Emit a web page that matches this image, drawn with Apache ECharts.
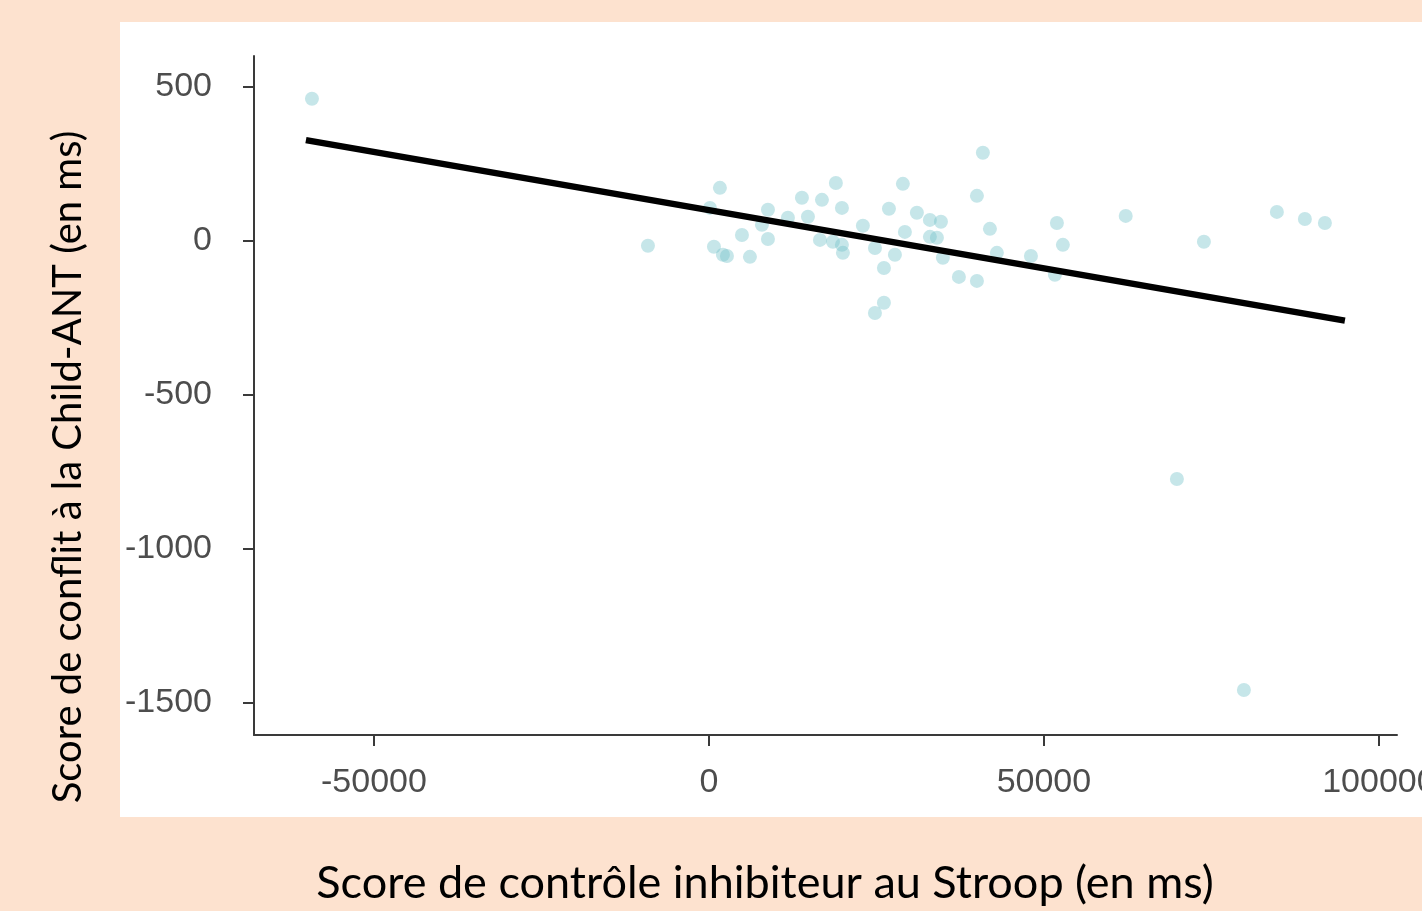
<!DOCTYPE html>
<html>
<head>
<meta charset="utf-8">
<script src="https://cdn.jsdelivr.net/npm/echarts@6/dist/echarts.min.js"></script>
<style>
html,body{margin:0;padding:0;background:#fde2cf;}
#chart{width:1422px;height:911px;}
</style>
</head>
<body>
<div id="chart"></div>
<script>
// Data
const xValues = [-59250, -9100, 1640, 150, 750, 2090, 2690, 4930, 6120, 8810, 8810, 7910, 11790, 13880, 14780, 16870, 18950, 19850, 16570, 18510, 19850, 20000, 22980, 24780, 26120, 26120, 24780, 26870, 27760, 28950, 29250, 31040, 32980, 34630, 32980, 34030, 34920, 37310, 40000, 40000, 40890, 41940, 42980, 48060, 51940, 52830, 51640, 62210, 73880, 69850, 79850, 84770, 88950, 91940];
const yValues = [461, -16, 172, 107, -19, -45, -49, 19, -52, 101, 6, 52, 75, 140, 78, 133, 188, 107, 3, -3, -13, -39, 49, -23, -88, -201, -234, 104, -45, 185, 29, 91, 68, 62, 13, 10, -55, -117, -130, 146, 286, 39, -39, -49, 58, -13, -110, 81, -3, -773, -1458, 94, 71, 58];
const fitX = [-60150, 94925];
const fitY = [327, -259];
const xTicks = [-50000, 0, 50000, 100000];
const yTicks = [-1500, -1000, -500, 0, 500];
const xTitle = 'Score de contrôle inhibiteur au Stroop (en ms)';
const yTitle = 'Score de conflit à la Child-ANT (en ms)';

const points = xValues.map((x, i) => [x, yValues[i]]);
const fitLine = fitX.map((x, i) => [x, fitY[i]]);

const chart = echarts.init(document.getElementById('chart'));
const axisCol = '#3a3a3a';
const labelStyle = {color: '#4d4d4d', fontFamily: 'Liberation Sans, Arial, sans-serif', fontSize: 34};
chart.setOption({
  backgroundColor: '#fde2cf',
  animation: false,
  graphic: [
    {type: 'rect', z: -10, shape: {x: 120, y: 22, width: 1310, height: 795}, style: {fill: '#ffffff'}},
    {type: 'text', z: 10, x: 765, y: 883, style: {text: xTitle, fill: '#000', font: '45px Lato, "Open Sans", sans-serif', align: 'center', verticalAlign: 'middle'}},
    {type: 'text', z: 10, x: 68, y: 467, rotation: Math.PI / 2, style: {text: yTitle, fill: '#000', font: '40px Lato, "Open Sans", sans-serif', align: 'center', verticalAlign: 'middle'}}
  ],
  grid: {left: 254, top: 56, right: 25, bottom: 176, containLabel: false, outerBoundsMode: 'none'},
  xAxis: {
    type: 'value', min: -67900, max: 102700,
    splitLine: {show: false},
    axisLine: {show: true, onZero: false, lineStyle: {color: axisCol, width: 2}},
    axisTick: {show: true, length: 11, customValues: xTicks, lineStyle: {color: axisCol, width: 2}},
    axisLabel: Object.assign({margin: 31, customValues: xTicks, formatter: v => String(v), hideOverlap: false}, labelStyle)
  },
  yAxis: {
    type: 'value', min: -1604, max: 600,
    splitLine: {show: false},
    axisLine: {show: true, onZero: false, lineStyle: {color: axisCol, width: 2}},
    axisTick: {show: true, length: 11, customValues: yTicks, lineStyle: {color: axisCol, width: 2}},
    axisLabel: Object.assign({margin: 42, customValues: yTicks, formatter: v => String(v)}, labelStyle)
  },
  series: [
    {type: 'scatter', data: points, symbolSize: 14, z: 2,
     itemStyle: {color: 'rgba(113,193,201,0.5)', borderWidth: 0}},
    {type: 'line', data: fitLine, showSymbol: false, symbol: 'none', z: 3,
     lineStyle: {color: '#000', width: 6.5}}
  ]
});
</script>
</body>
</html>
